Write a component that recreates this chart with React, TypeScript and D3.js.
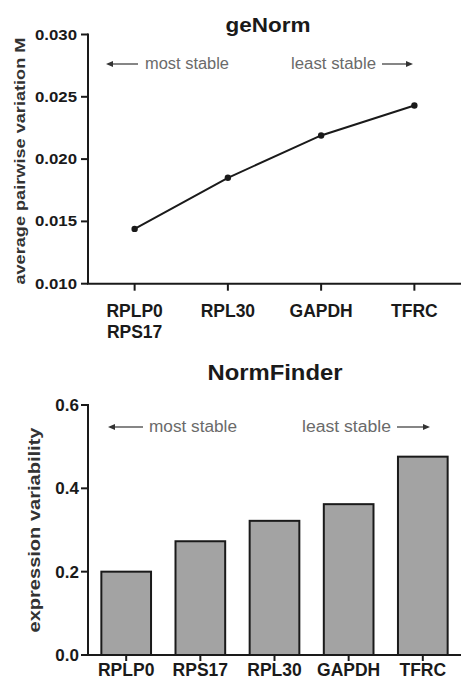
import React from 'react'
import * as d3 from 'd3'

// geNorm panel
const genormGenes = ['RPLP0', 'RPL30', 'GAPDH', 'TFRC']
const genormSecondLine = ['RPS17', '', '', '']
const genormM = [0.0144, 0.0185, 0.0219, 0.0243]
const genormTicks = [0.010, 0.015, 0.020, 0.025, 0.030]

// NormFinder panel
const nfGenes = ['RPLP0', 'RPS17', 'RPL30', 'GAPDH', 'TFRC']
const nfValues = [0.2, 0.273, 0.322, 0.362, 0.476]
const nfTicks = [0, 0.2, 0.4, 0.6]

const W = 462
const H = 681
const font = '"Liberation Sans", Arial, Helvetica, sans-serif'
const ink = '#1a1a1a'
const grey = '#6a6a6a'

function Arrow({ x1, x2, y }: { x1: number; x2: number; y: number }) {
  // arrowhead sits at x2
  const dir = x2 > x1 ? 1 : -1
  return (
    <g>
      <line x1={x1} x2={x2 - dir * 5} y1={y} y2={y} stroke="#444" strokeWidth={1.3} />
      <path d={`M${x2},${y} L${x2 - dir * 7},${y - 3} L${x2 - dir * 7},${y + 3} Z`} fill="#333" />
    </g>
  )
}

function StableNotes({ y, most, least }: { y: number; most: number[]; least: number[] }) {
  return (
    <g fontFamily={font} fontSize={16} fill={grey}>
      <Arrow x1={most[1]} x2={most[0]} y={y} />
      <text x={most[2]} y={y + 5} textLength={most[3] - most[2]} lengthAdjust="spacingAndGlyphs">most stable</text>
      <text x={least[0]} y={y + 5} textLength={least[1] - least[0]} lengthAdjust="spacingAndGlyphs">least stable</text>
      <Arrow x1={least[2]} x2={least[3]} y={y} />
    </g>
  )
}

function GeNorm() {
  const left = 88, right = 461, top = 34.5, bottom = 283.7
  const x = d3.scalePoint<string>().domain(genormGenes).range([left, right]).padding(0.5)
  const y = d3.scaleLinear().domain([0.010, 0.030]).range([bottom, top])
  const line = d3.line<number>().x((_, i) => x(genormGenes[i])!).y(d => y(d))

  return (
    <g>
      <text x={268} y={32} textAnchor="middle" fontFamily={font} fontWeight="bold" fontSize={21} fill={ink}
        textLength={85} lengthAdjust="spacingAndGlyphs">geNorm</text>
      <text transform={`translate(25,${(top + bottom) / 2 + 2}) rotate(-90)`} textAnchor="middle"
        fontFamily={font} fontWeight="bold" fontSize={15} fill="#333"
        textLength={247} lengthAdjust="spacingAndGlyphs">average pairwise variation M</text>

      <line x1={left} x2={left} y1={top - 1} y2={bottom} stroke={ink} strokeWidth={2} />
      <line x1={left - 1} x2={right} y1={bottom} y2={bottom} stroke={ink} strokeWidth={2} />
      {genormTicks.map(t => (
        <g key={t}>
          <line x1={left - 7} x2={left} y1={y(t)} y2={y(t)} stroke={ink} strokeWidth={2} />
          <text x={left - 11} y={y(t) + 5} textAnchor="end" fontFamily={font} fontWeight="bold" fontSize={15}
            fill={ink} textLength={42} lengthAdjust="spacingAndGlyphs">{t.toFixed(3)}</text>
        </g>
      ))}
      {genormGenes.map((g, i) => (
        <g key={g}>
          <line x1={x(g)} x2={x(g)} y1={bottom} y2={bottom + 7} stroke={ink} strokeWidth={2} />
          <text x={x(g)} y={317} textAnchor="middle" fontFamily={font} fontWeight="bold" fontSize={17.5} fill={ink}>{g}</text>
          {genormSecondLine[i] && (
            <text x={x(g)} y={338} textAnchor="middle" fontFamily={font} fontWeight="bold" fontSize={17.5} fill={ink}>{genormSecondLine[i]}</text>
          )}
        </g>
      ))}

      <StableNotes y={64} most={[106, 138, 145, 229]} least={[291, 376, 382, 413]} />

      <path d={line(genormM) ?? ''} fill="none" stroke={ink} strokeWidth={2} />
      {genormM.map((v, i) => (
        <circle key={i} cx={x(genormGenes[i])} cy={y(v)} r={3.2} fill={ink} />
      ))}
    </g>
  )
}

function NormFinder() {
  const left = 88, right = 461, top = 405, bottom = 655
  const x = d3.scaleBand<string>().domain(nfGenes).range([left, right]).paddingInner(0.33).paddingOuter(0.18)
  const y = d3.scaleLinear().domain([0, 0.6]).range([bottom, top])

  return (
    <g>
      <text x={275} y={380} textAnchor="middle" fontFamily={font} fontWeight="bold" fontSize={22} fill={ink}
        textLength={135} lengthAdjust="spacingAndGlyphs">NormFinder</text>
      <text transform={`translate(40,${530}) rotate(-90)`} textAnchor="middle"
        fontFamily={font} fontWeight="bold" fontSize={17} fill="#333"
        textLength={205} lengthAdjust="spacingAndGlyphs">expression variability</text>

      <StableNotes y={427} most={[108, 143, 149, 237]} least={[302, 391, 397, 430]} />

      {nfGenes.map((g, i) => (
        <rect key={g} x={x(g)} y={y(nfValues[i])} width={x.bandwidth()} height={bottom - y(nfValues[i])}
          fill="#a3a3a3" stroke={ink} strokeWidth={2} />
      ))}

      <line x1={left} x2={left} y1={top - 1} y2={bottom} stroke={ink} strokeWidth={2} />
      <line x1={left - 1} x2={right} y1={bottom} y2={bottom} stroke={ink} strokeWidth={2} />
      {nfTicks.map(t => (
        <g key={t}>
          <line x1={left - 7} x2={left} y1={y(t)} y2={y(t)} stroke={ink} strokeWidth={2} />
          <text x={left - 9} y={y(t) + 6} textAnchor="end" fontFamily={font} fontWeight="bold" fontSize={17}
            fill={ink}>{t.toFixed(1)}</text>
        </g>
      ))}
      {nfGenes.map(g => {
        const cx = x(g)! + x.bandwidth() / 2
        return (
          <g key={g}>
            <line x1={cx} x2={cx} y1={bottom} y2={bottom + 6} stroke={ink} strokeWidth={2} />
            <text x={cx} y={676} textAnchor="middle" fontFamily={font} fontWeight="bold" fontSize={17.5} fill={ink}>{g}</text>
          </g>
        )
      })}
    </g>
  )
}

export default function App() {
  return (
    <svg width={W} height={H} style={{ position: 'absolute', left: 0, top: 0, background: '#fff' }}>
      <rect width={W} height={H} fill="#fff" />
      <GeNorm />
      <NormFinder />
    </svg>
  )
}
